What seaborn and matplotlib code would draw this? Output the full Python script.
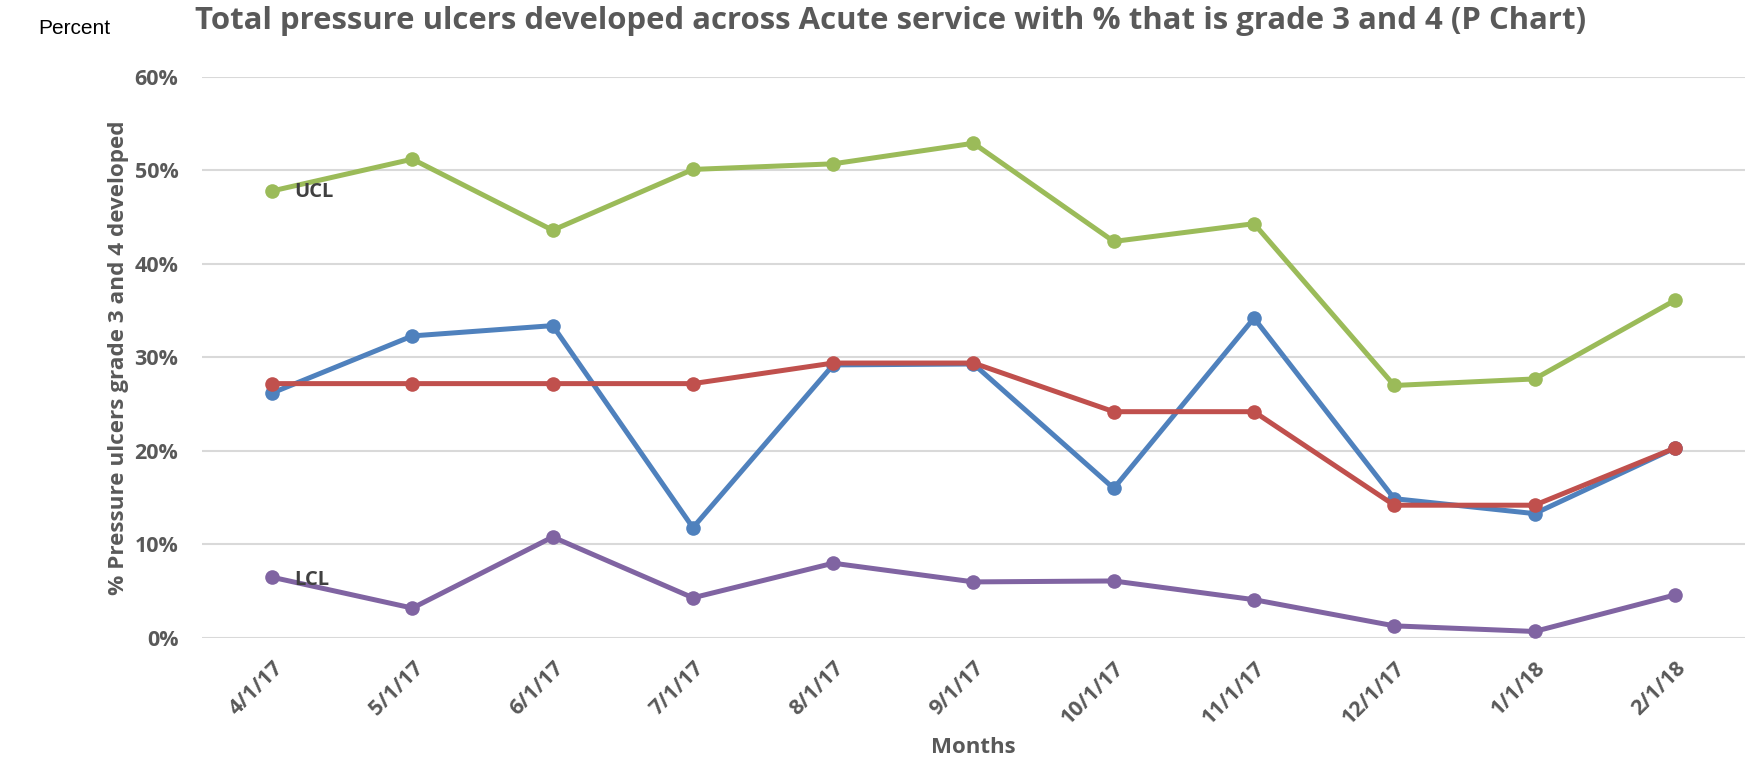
import numpy as np
import pandas as pd
import matplotlib
matplotlib.use("Agg")
import matplotlib.pyplot as plt
import seaborn as sns

# --- data (percent) ---
months = ["4/1/17", "5/1/17", "6/1/17", "7/1/17", "8/1/17", "9/1/17",
          "10/1/17", "11/1/17", "12/1/17", "1/1/18", "2/1/18"]
pct_grade34 = [26.2, 32.3, 33.4, 11.8, 29.2, 29.3, 16.0, 34.2, 14.9, 13.3, 20.3]
centre_line = [27.2, 27.2, 27.2, 27.2, 29.4, 29.4, 24.2, 24.2, 14.2, 14.2, 20.3]
ucl = [47.8, 51.2, 43.6, 50.1, 50.7, 52.9, 42.4, 44.3, 27.0, 27.7, 36.1]
lcl = [6.5, 3.2, 10.8, 4.3, 8.0, 6.0, 6.1, 4.1, 1.3, 0.7, 4.6]

series_names = ["% grade 3 and 4", "Mean", "UCL", "LCL"]
series_values = [pct_grade34, centre_line, ucl, lcl]
colours = ["#4F81BD", "#C0504D", "#9BBB59", "#8064A2"]

rows = []
for name, vals in zip(series_names, series_values):
    for i, v in enumerate(vals):
        rows.append({"idx": i, "month": months[i], "series": name, "value": v / 100})
df = pd.DataFrame(rows)

sns.set_theme(style="white")
plt.rcParams["font.family"] = ["Open Sans", "DejaVu Sans"]

grey = "#595959"
fig = plt.figure(figsize=(17.46, 7.63), dpi=100)
ax = fig.add_axes([0.1157, 0.1638, 0.8837, 0.7355])

for name, col in zip(series_names, colours):
    sns.lineplot(data=df[df["series"] == name], x="idx", y="value", ax=ax,
                 color=col, linewidth=3.6, marker="o", markersize=10.5,
                 markeredgewidth=0, legend=False)

ax.set_xlim(-0.5, len(months) - 0.5)
ax.set_ylim(0, 0.6)
yt = np.arange(0, 0.61, 0.1)
ax.set_yticks(yt)
ax.set_yticklabels([f"{int(round(t * 100))}%" for t in yt])
ax.set_xticks(range(len(months)))
ax.set_xticklabels(months, rotation=45, ha="right", rotation_mode="anchor")
ax.tick_params(axis="both", length=0, labelsize=15.5, colors=grey)
ax.tick_params(axis="x", pad=14)
ax.tick_params(axis="y", pad=17)
for lbl in ax.get_xticklabels() + ax.get_yticklabels():
    lbl.set_fontweight("bold")

ax.grid(axis="y", color="#D9D9D9", linewidth=1.5)
ax.set_axisbelow(True)
for s in ax.spines.values():
    s.set_visible(False)

ax.set_xlabel("Months", fontsize=16, fontweight="bold", color=grey, labelpad=6)
ax.set_ylabel("% Pressure ulcers grade 3 and 4 developed", fontsize=16.2,
              fontweight="bold", color=grey, labelpad=4)

# control limit labels next to the first point
ax.annotate("UCL", (0, ucl[0] / 100), xytext=(16, -1), textcoords="offset points",
            fontsize=14.5, fontweight="bold", color="#404040", va="center")
ax.annotate("LCL", (0, lcl[0] / 100), xytext=(16, -2), textcoords="offset points",
            fontsize=14.5, fontweight="bold", color="#404040", va="center")

fig.text(0.51, 0.972, "Total pressure ulcers developed across Acute service with % that is grade 3 and 4 (P Chart)",
         ha="center", va="center", fontsize=22.4, fontweight="bold", color=grey)
fig.text(0.022, 0.963, "Percent", ha="left", va="center", fontsize=15,
         color="black", family=["Liberation Sans", "DejaVu Sans"])

fig.savefig("out.png", dpi=100, facecolor="white")
